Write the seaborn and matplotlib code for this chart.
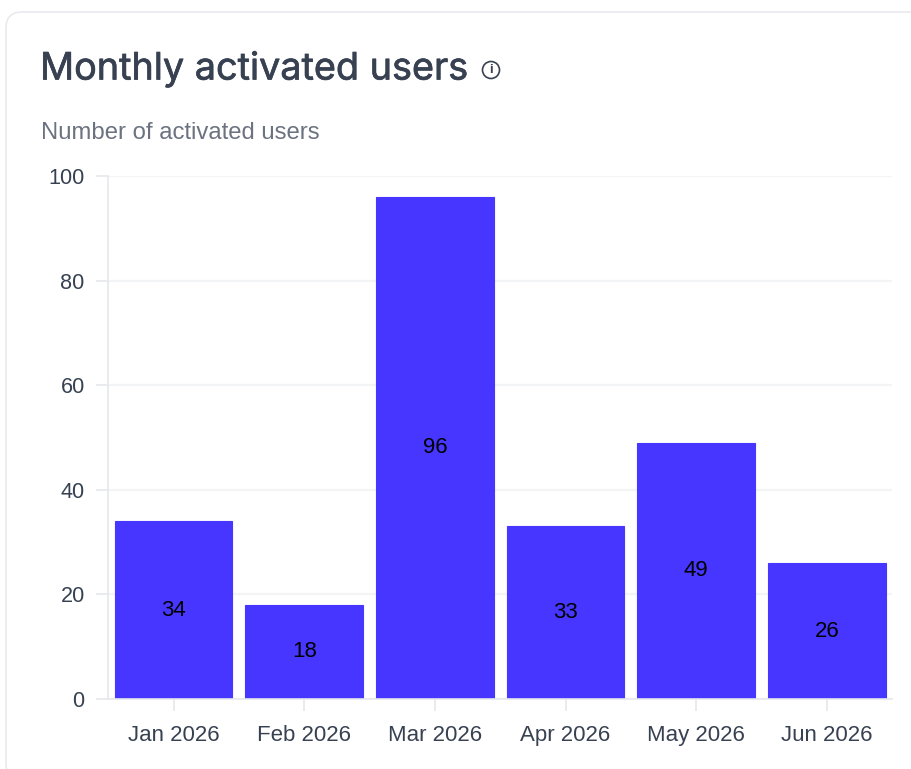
import matplotlib
matplotlib.use("Agg")
import matplotlib.pyplot as plt
import matplotlib.patheffects as pe
from matplotlib.patches import FancyBboxPatch, Circle
import seaborn as sns
import pandas as pd

months = ["Jan 2026", "Feb 2026", "Mar 2026", "Apr 2026", "May 2026", "Jun 2026"]
activated = [34, 18, 96, 33, 49, 26]
y_ticks = [0, 20, 40, 60, 80, 100]

W, H = 912, 769
sns.set_theme(style="white")
plt.rcParams["font.family"] = ["Inter", "DejaVu Sans"]

fig = plt.figure(figsize=(W / 100, H / 100), dpi=100, facecolor="white")

card = FancyBboxPatch((6, H - 780), 1000, 768, boxstyle="round,pad=0,rounding_size=16",
                      transform=None, fc="white", ec="#E9EAEF", lw=1.2, zorder=-1)
fig.patches.append(card)

ax = fig.add_axes([108.2 / W, 1 - 699 / H, 784 / W, 523 / H])
ax.set_facecolor("none")
df = pd.DataFrame({"month": months, "activated": activated})
sns.barplot(data=df, x="month", y="activated", color="#4636FF", saturation=1,
            width=0.9, ax=ax, zorder=3, edgecolor="#4636FF", linewidth=0.8)
ax.set_xlim(-0.5, 5.5)
ax.set_ylim(0, 100)
ax.set_yticks(y_ticks)
ax.set_xlabel("")
ax.set_ylabel("")
ax.grid(axis="y", color="#F3F4F6", lw=1.6, zorder=0)
ax.set_axisbelow(True)
for s in ["top", "right"]:
    ax.spines[s].set_visible(False)
for s in ["left", "bottom"]:
    ax.spines[s].set_color("#E5E7EB")
    ax.spines[s].set_linewidth(1.2)
    ax.spines[s].set_zorder(4)
ax.tick_params(axis="both", color="#E5E7EB", length=8.6, width=1.2, labelsize=16,
               labelcolor="#374151", left=True, bottom=True)
ax.tick_params(axis="x", pad=10.3)
ax.tick_params(axis="y", pad=8.3)
for c in ax.containers:
    ax.bar_label(c, label_type="center", color="black", fontsize=16,
                 family=["Liberation Sans"], zorder=5)
for lab in ax.get_xticklabels():
    lab.set_family(["Liberation Sans"])
    lab.set_fontsize(16)
for lab in ax.get_yticklabels():
    lab.set_family(["Liberation Sans"])
    lab.set_fontsize(15.6)

title = fig.text(40 / W, 1 - 69.5 / H, "Monthly activated users", fontsize=27.2, color="#374151",
                 va="center", ha="left", family=["Inter", "DejaVu Sans"])
title.set_path_effects([pe.withStroke(linewidth=0.5, foreground="#374151")])
fig.text(41 / W, 1 - 133 / H, "Number of activated users", fontsize=17.2, color="#6B7280",
         va="center", ha="left", family=["Liberation Sans"])

icon = Circle((491, H - 70), 8.5, transform=None, fc="none", ec="#374151", lw=1.2)
fig.patches.append(icon)
fig.text(491 / W, 1 - 70 / H, "i", fontsize=9.5, color="#374151", fontweight="bold",
         va="center", ha="center", family=["Liberation Sans"])

fig.savefig("out.png", dpi=100)
